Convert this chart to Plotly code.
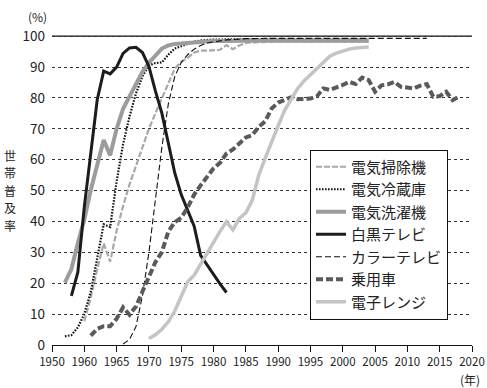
import plotly.graph_objects as go

# ---------------- data ----------------
vac_years = list(range(1960, 2005))
vac_vals = [7.7, 15.4, 24.5, 32.9, 27.0, 37.0, 45.0, 52.0, 58.0, 64.0,
            70.0, 75.0, 80.0, 85.0, 89.5, 91.7, 93.0, 94.7, 95.3, 95.3,
            95.4, 95.6, 97.1, 95.8, 97.0, 97.8, 98.0, 98.1, 98.2, 98.2,
            98.3, 98.2, 98.3, 98.3, 98.2, 98.3, 98.2, 98.3, 98.2, 98.2,
            98.3, 98.2, 98.3, 98.2, 98.2]

fri_years = list(range(1957, 2005))
fri_vals = [2.8, 3.2, 5.7, 10.1, 17.2, 28.0, 39.1, 38.2, 53.0, 65.0,
            74.0, 81.5, 87.0, 90.5, 91.3, 91.5, 94.0, 96.0, 96.7, 97.5,
            98.2, 98.6, 98.8, 98.9, 98.9, 99.0, 99.0, 99.0, 99.0, 99.0,
            99.0, 99.0, 99.0, 99.0, 99.0, 99.0, 99.0, 99.0, 99.0, 99.0,
            99.0, 99.0, 99.0, 99.0, 99.0, 99.0, 99.0, 99.0]

was_years = list(range(1957, 2005))
was_vals = [20.2, 24.6, 33.0, 40.6, 50.2, 58.1, 66.4, 61.4, 70.0, 76.5,
            80.5, 84.8, 88.5, 91.4, 93.6, 96.0, 97.0, 97.5, 97.6, 97.8,
            98.0, 98.2, 98.3, 98.4, 98.4, 98.5, 98.5, 98.5, 98.5, 98.5,
            98.5, 98.5, 98.5, 98.5, 98.5, 98.5, 98.5, 98.5, 98.5, 98.5,
            98.5, 98.5, 98.5, 98.5, 98.5, 98.5, 98.5, 98.5]

bw_years = list(range(1958, 1983))
bw_vals = [15.9, 23.6, 44.7, 62.5, 79.4, 88.7, 87.8, 90.0, 94.4, 96.2,
           96.4, 94.7, 90.2, 82.3, 75.1, 65.4, 55.7, 48.7, 43.5, 38.5,
           29.0, 25.8, 22.6, 19.8, 17.0]

col_years = list(range(1966, 2014))
col_vals = [0.3, 1.8, 6.0, 16.0, 30.0, 48.0, 64.0, 78.0, 87.0, 91.5,
            94.0, 95.8, 97.0, 97.8, 98.2, 98.5, 98.8, 98.9, 99.1, 99.2,
            99.2, 99.3, 99.3, 99.3, 99.3, 99.3, 99.3, 99.3, 99.3, 99.3,
            99.3, 99.3, 99.3, 99.3, 99.3, 99.3, 99.3, 99.3, 99.3, 99.3,
            99.3, 99.3, 99.3, 99.3, 99.3, 99.3, 99.3, 99.3]

car_years = list(range(1961, 2019))
car_vals = [3.0, 5.2, 6.1, 6.1, 8.5, 12.2, 9.8, 12.5, 17.3, 22.1,
            26.8, 30.1, 36.7, 39.8, 41.2, 44.5, 48.7, 51.7, 54.6, 57.2,
            59.0, 62.0, 63.3, 65.2, 67.2, 68.0, 70.6, 72.5, 76.6, 78.5,
            79.5, 80.2, 79.6, 79.8, 79.8, 80.5, 83.1, 82.6, 83.3, 84.2,
            85.2, 84.5, 86.6, 85.8, 82.0, 84.1, 84.4, 85.2, 83.6, 83.3,
            83.1, 84.0, 84.5, 80.4, 80.6, 82.0, 79.3, 80.4]

mic_years = list(range(1970, 2005))
mic_vals = [2.1, 3.3, 5.1, 7.5, 11.0, 15.8, 20.5, 22.6, 26.1, 29.6,
            33.6, 36.8, 39.9, 37.3, 41.0, 42.8, 46.9, 55.0, 60.5, 66.0,
            71.0, 76.0, 79.5, 83.0, 85.5, 87.5, 89.5, 91.5, 93.5, 94.5,
            95.3, 95.8, 96.2, 96.4, 96.5]

x_tick_vals = [1955, 1960, 1965, 1970, 1975, 1980, 1985, 1990, 1995,
               2000, 2005, 2010, 2015, 2020]
x_tick_text = ["1950", "1960", "1965", "1970", "1975", "1980", "1985", "1990",
               "1995", "2000", "2005", "2010", "2015", "2020"]
y_tick_vals = [0, 10, 20, 30, 40, 50, 60, 70, 80, 90, 100]
y_title_chars = ["世", "帯", "普", "及", "率"]

series = [
    ("電気掃除機", vac_years, vac_vals, dict(color="#a8a8a8", width=2.2, dash="6px,2px")),
    ("電気冷蔵庫", fri_years, fri_vals, dict(color="#151515", width=2.2, dash="1.6px,1.4px")),
    ("電気洗濯機", was_years, was_vals, dict(color="#9c9c9c", width=4)),
    ("白黒テレビ", bw_years, bw_vals, dict(color="#1c1c1c", width=3)),
    ("カラーテレビ", col_years, col_vals, dict(color="#111111", width=1.1, dash="6px,3px")),
    ("乗用車", car_years, car_vals, dict(color="#5a5a5a", width=4, dash="7px,3px")),
    ("電子レンジ", mic_years, mic_vals, dict(color="#c4c4c4", width=3.5)),
]

FONT = "Noto Sans CJK JP"

fig = go.Figure()
for name, xs, ys, line in series:
    fig.add_trace(go.Scatter(x=xs, y=ys, mode="lines", name=name, line=line))

L, R, T, B = 52, 15, 30, 43
W, H = 487, 388
pw = W - L - R
ph = H - T - B

fig.update_layout(
    width=W, height=H,
    margin=dict(l=L, r=R, t=T, b=B, autoexpand=False),
    paper_bgcolor="white", plot_bgcolor="white",
    font=dict(family=FONT, color="#222222"),
    showlegend=True,
    legend=dict(
        x=(310 - L) / pw, y=(H - B - 149.5) / ph,
        xanchor="left", yanchor="top",
        bgcolor="white", bordercolor="#111111", borderwidth=1,
        font=dict(family=FONT, size=15, color="#222222"),
        itemwidth=30, tracegroupgap=0,
    ),
    xaxis=dict(
        range=[1955, 2020], tickmode="array", tickvals=x_tick_vals, ticktext=x_tick_text,
        showgrid=False, zeroline=False, showline=True, linecolor="#111111", linewidth=1.2,
        ticks="outside", ticklen=6, tickcolor="#111111", tickwidth=1.2,
        tickfont=dict(family=FONT, size=11.5, color="#222222"),
    ),
    yaxis=dict(
        range=[0, 102], tickmode="array", tickvals=y_tick_vals,
        showgrid=True, gridcolor="#333333", gridwidth=1, griddash="dot",
        zeroline=False, showline=False, ticks="", ticklabelstandoff=6,
        tickfont=dict(family=FONT, size=13.5, color="#222222"),
    ),
)

fig.add_shape(type="line", xref="paper", x0=0, x1=1, yref="y", y0=100, y1=100,
              line=dict(color="#111111", width=1.3), layer="below")

for i, ch in enumerate(y_title_chars):
    fig.add_annotation(text=ch, xref="paper", yref="paper",
                       x=(10 - L) / pw, y=(H - B - (155 + 17.5 * i)) / ph,
                       showarrow=False, xanchor="center", yanchor="middle",
                       font=dict(family=FONT, size=12, color="#222222"))

fig.add_annotation(text="(%)", xref="paper", yref="paper",
                   x=(37 - L) / pw, y=(H - B - 17) / ph,
                   showarrow=False, xanchor="center", yanchor="middle",
                   font=dict(family=FONT, size=12, color="#222222"))
fig.add_annotation(text="(年)", xref="paper", yref="paper",
                   x=(470 - L) / pw, y=(H - B - 379) / ph,
                   showarrow=False, xanchor="center", yanchor="middle",
                   font=dict(family=FONT, size=12, color="#222222"))

fig.write_html("out.html",
               config={"displayModeBar": False},
               post_script="document.body.style.margin='0px';document.body.style.overflow='hidden';")
